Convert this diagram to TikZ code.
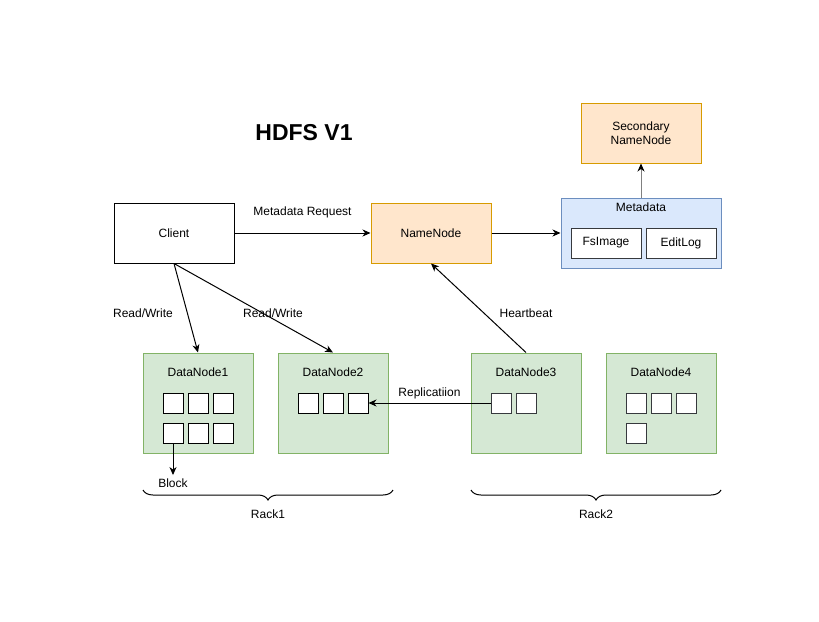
\documentclass[tikz,border=0pt]{standalone}
\usepackage{fontspec}
\setmainfont{Liberation Sans}
\usetikzlibrary{arrows.meta, positioning, decorations.pathreplacing}

\definecolor{orangefill}{HTML}{FFE6CC}
\definecolor{orangeline}{HTML}{D79B00}
\definecolor{bluefill}{HTML}{DAE8FC}
\definecolor{blueline}{HTML}{6C8EBF}
\definecolor{greenfill}{HTML}{D5E8D4}
\definecolor{greenline}{HTML}{82B366}
\definecolor{darkline}{HTML}{36393D}

\begin{document}
\begin{tikzpicture}[
    x=1pt, y=-1pt,
    font=\fontsize{12}{14}\selectfont,
    box/.style={draw, line width=1pt, inner sep=0pt, minimum width=120pt,
                minimum height=60pt, align=center},
    master/.style={box, fill=orangefill, draw=orangeline},
    datanode/.style={box, fill=greenfill, draw=greenline,
                minimum width=110pt, minimum height=100pt},
    blk/.style={draw, fill=white, line width=1pt, minimum size=20pt, inner sep=0pt},
    arrow/.style={-{Stealth[length=8pt, width=7pt, inset=2.5pt, color=black]}, line width=1pt},
    rack/.style={decorate, decoration={brace, mirror, amplitude=10pt}, line width=1pt}
  ]
  \useasboundingbox (0,0) rectangle (819,621);

  \node[font=\fontsize{23}{27}\selectfont\bfseries] (title) at (304,133) {HDFS V1};

  \node[box] (client) at (174,233) {Client};
  \node[master] (namenode) at (431,233) {NameNode};
  \node[master] (secondary) at (641,133) {Secondary\\NameNode};

  \node[box, fill=bluefill, draw=blueline, minimum width=160pt, minimum height=70pt,
        label={[yshift=-10pt, anchor=center]north:Metadata}] (metadata) at (641,233) {};
  \node[blk, draw=darkline, minimum width=70pt, minimum height=30pt] (fsimage) at (606,243) {FsImage};
  \node[blk, draw=darkline, minimum width=70pt, minimum height=30pt] (editlog) at (681,243) {EditLog};

  \node[datanode, label={[yshift=-20pt, anchor=center]north:DataNode1}] (dn1) at (198,403) {};
  \node[datanode, label={[yshift=-20pt, anchor=center]north:DataNode2}] (dn2) at (333,403) {};
  \node[datanode, label={[yshift=-20pt, anchor=center]north:DataNode3}] (dn3) at (526,403) {};
  \node[datanode, label={[yshift=-20pt, anchor=center]north:DataNode4}] (dn4) at (661,403) {};

  % blocks
  \foreach \i/\x/\y in {1/173/403, 2/198/403, 3/223/403, 4/173/433, 5/198/433, 6/223/433}
    \node[blk] (a\i) at (\x,\y) {};
  \foreach \i/\x in {1/308, 2/333, 3/358}
    \node[blk] (b\i) at (\x,403) {};
  \foreach \i/\x in {1/501, 2/526}
    \node[blk, draw=darkline] (c\i) at (\x,403) {};
  \foreach \i/\x/\y in {1/636/403, 2/661/403, 3/686/403, 4/636/433}
    \node[blk, draw=darkline] (d\i) at (\x,\y) {};

  \node (block) at (173,483) {Block};

  \draw[arrow] (client) -- node[midway, yshift=21pt] {Metadata Request} (namenode);
  \draw[arrow] (namenode) -- (metadata);
  \draw[arrow, draw=gray] (metadata) -- (secondary);
  \draw[arrow] (client.south) -- (dn1.north);
  \draw[arrow] (client.south) -- (dn2.north);
  \draw[arrow] (dn3.north) -- (namenode.south);
  \draw[arrow] (c1.west) -- node[midway, yshift=10pt] {Replicatiion} (b3.east);
  \draw[arrow] (a4.south) -- (block.north);

  \node (rw1) at (143,313) {Read/Write};
  \node (rw2) at (273,313) {Read/Write};
  \node (heartbeat) at (526,313) {Heartbeat};

  % racks
  \draw[rack] (143,490) -- (393,490);
  \draw[rack] (471,490) -- (721,490);
  \node (rack1) at (268,514) {Rack1};
  \node (rack2) at (596,514) {Rack2};
\end{tikzpicture}
\end{document}
